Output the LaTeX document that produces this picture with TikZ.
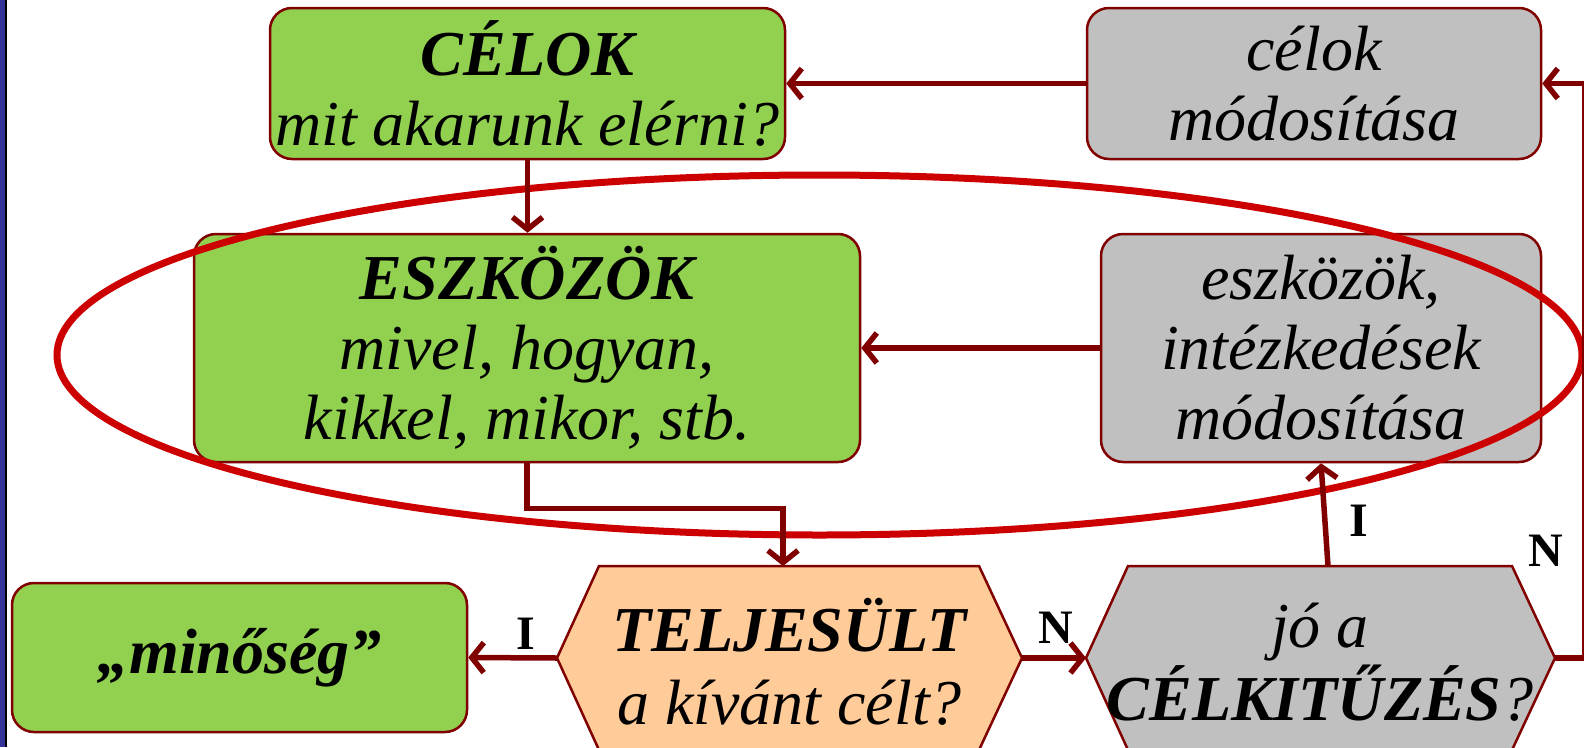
\documentclass[tikz,border=0pt]{standalone}
\usepackage{fontspec}
\setmainfont{Liberation Serif}[UprightFont=*, ItalicFont=* Italic, BoldFont=* Bold, BoldItalicFont=* Bold Italic]
\usetikzlibrary{arrows.meta}
\definecolor{boxgreen}{HTML}{92D050}
\definecolor{boxgray}{HTML}{C0C0C0}
\definecolor{boxorange}{HTML}{FFCC99}
\definecolor{darkred}{HTML}{800000}
\definecolor{ellred}{HTML}{CC0000}
\definecolor{stripblue}{HTML}{333399}
\begin{document}
\begin{tikzpicture}[x=1pt,y=-1pt,
  box/.style={draw=darkred, line width=2.5pt, rounded corners=22pt, align=center, inner sep=0pt,
    font=\fontsize{64}{70}\selectfont\itshape},
  txt/.style={align=center, inner sep=0pt, font=\fontsize{64}{73}\selectfont\itshape},
  hexa/.style={draw=darkred, line width=2.5pt},
  conn/.style={draw=darkred, line width=5.5pt, -{Straight Barb[length=12pt,width=30pt]}},
  lab/.style={inner sep=0pt, font=\fontsize{48}{48}\selectfont\bfseries}
]
\useasboundingbox (0,0) rectangle (1584,747);
\fill[stripblue] (0,0) rectangle (5,747);
\fill[black] (5,0) rectangle (7,747);

% boxes
\node[box, fill=boxgreen, minimum width=515pt, minimum height=151pt] (celok) at (527.5,83.5)
  {\textbf{CÉLOK}\\mit akarunk elérni?};
\node[box, fill=boxgray, minimum width=454pt, minimum height=151pt] (cmod) at (1314,83.5)
  {célok\\módosítása};
\node[box, fill=boxgreen, minimum width=666pt, minimum height=228pt] (esz) at (527,348)
  {\textbf{ESZKÖZÖK}\\mivel, hogyan,\\kikkel, mikor, stb.};
\node[box, fill=boxgray, minimum width=440pt, minimum height=228pt] (emod) at (1321,348)
  {eszközök,\\intézkedések\\módosítása};
\node[box, fill=boxgreen, minimum width=455pt, minimum height=149pt] (mino) at (239.5,657.5)
  {\textbf{„minőség”}};

% hexagons
\coordinate (h1L) at (557,658);
\coordinate (h1R) at (1022,658);
\coordinate (h1T) at (783,566);
\filldraw[hexa, fill=boxorange] (599,566) -- (979,566) -- (h1R) -- (979,750) -- (599,750) -- (h1L) -- cycle;
\node[txt] (telj) at (789.5,662) {\textbf{TELJESÜLT}\\a kívánt célt?};

\coordinate (h2L) at (1086,658);
\coordinate (h2R) at (1555,658);
\coordinate (h2T) at (1328,566);
\filldraw[hexa, fill=boxgray] (1128,566) -- (1512,566) -- (h2R) -- (1512,750) -- (1128,750) -- (h2L) -- cycle;
\node[txt] (jo) at (1320,662) {jó a\\\textbf{CÉLKITŰZÉS}?};

% ellipse
\draw[ellred, line width=7pt] (819.5,355) ellipse [x radius=762.5pt, y radius=180pt];

% connectors
\coordinate (redge) at (1585,658);
\draw[conn] (cmod.west) -- (celok.east);
\draw[conn] (celok.south) -- (celok.south |- esz.north);
\draw[conn] (emod.west) -- (esz.east);
\draw[conn] (esz.south) -- ++(0,45) -| (h1T);
\draw[conn] (h1L) -- (mino.east);
\draw[conn] (h1R) -- (h2L);
\draw[conn] (h2T) -- (emod.south);
\draw[conn] (h2R) -- (redge) |- (cmod.east);

% labels
\node[lab] (lI1) at (526,634) {I};
\node[lab] (lN1) at (1056,628) {N};
\node[lab] (lI2) at (1359,521) {I};
\node[lab] (lN2) at (1546,551) {N};
\end{tikzpicture}
\end{document}
